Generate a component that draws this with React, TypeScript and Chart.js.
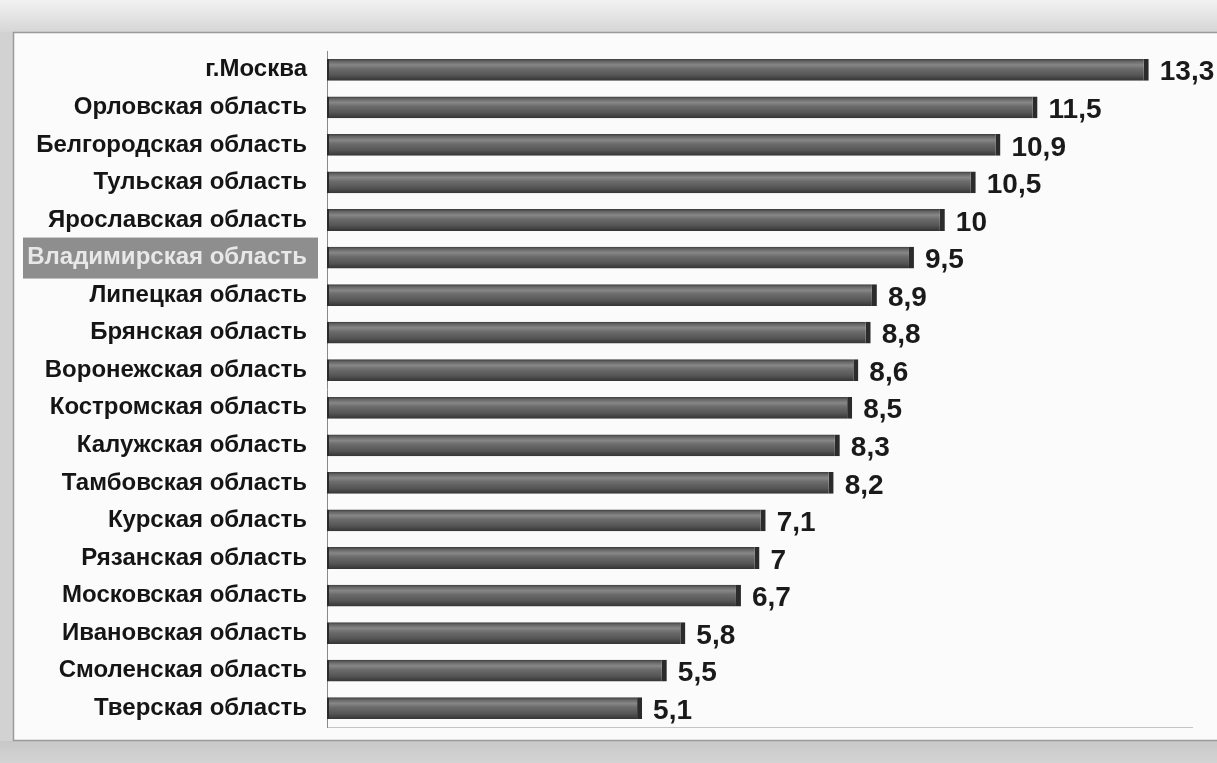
import { useEffect, useRef } from "react";
import { Chart, registerables } from "chart.js";

Chart.register(...registerables);

const regions: string[] = [
  "г.Москва",
  "Орловская область",
  "Белгородская область",
  "Тульская область",
  "Ярославская область",
  "Владимирская область",
  "Липецкая область",
  "Брянская область",
  "Воронежская область",
  "Костромская область",
  "Калужская область",
  "Тамбовская область",
  "Курская область",
  "Рязанская область",
  "Московская область",
  "Ивановская область",
  "Смоленская область",
  "Тверская область",
];

const values: number[] = [13.3, 11.5, 10.9, 10.5, 10, 9.5, 8.9, 8.8, 8.6, 8.5, 8.3, 8.2, 7.1, 7, 6.7, 5.8, 5.5, 5.1];

const highlightIndex = 5;
const xMin = 0;
const xMax = 14;

const fmt = (v: number) => String(v).replace(".", ",");

export default function App() {
  const ref = useRef<HTMLCanvasElement>(null);

  useEffect(() => {
    const canvas = ref.current;
    if (!canvas) return;

    const bgPlugin = {
      id: "bgPanel",
      beforeDraw(chart: any) {
        const { ctx, width, height } = chart;
        ctx.save();
        ctx.fillStyle = "#d2d2d2";
        ctx.fillRect(0, 0, width, height);
        const gt = ctx.createLinearGradient(0, 0, 0, 32);
        gt.addColorStop(0, "#f2f2f2");
        gt.addColorStop(1, "#d6d6d6");
        ctx.fillStyle = gt;
        ctx.fillRect(0, 0, width, 32);
        const gb = ctx.createLinearGradient(0, 741, 0, height);
        gb.addColorStop(0, "#c8c8c8");
        gb.addColorStop(1, "#d4d4d4");
        ctx.fillStyle = gb;
        ctx.fillRect(0, 741, width, height - 741);
        ctx.fillStyle = "#fbfbfb";
        ctx.fillRect(13, 32, width - 13, 709);
        ctx.strokeStyle = "#9a9a9a";
        ctx.lineWidth = 1.5;
        ctx.strokeRect(13.5, 32.5, width + 5, 708);
        const ys = chart.scales.y;
        if (ys) {
          const yc = ys.getPixelForValue(highlightIndex);
          if (Number.isFinite(yc)) {
            ctx.fillStyle = "#8e8e8e";
            ctx.fillRect(23, yc - 20, ys.right - 23 - 9, 41);
          }
        }
        ctx.restore();
      },
    };

    const labelPlugin = {
      id: "valueLabels",
      afterDatasetsDraw(chart: any) {
        const { ctx } = chart;
        const meta = chart.getDatasetMeta(0);
        ctx.save();
        ctx.fillStyle = "#1a1a1a";
        ctx.font = "bold 28px 'Liberation Sans', Arial, sans-serif";
        ctx.textAlign = "left";
        ctx.textBaseline = "middle";
        meta.data.forEach((el: any, i: number) => {
          ctx.fillText(fmt(values[i]), el.x + 11, el.y + 3);
        });
        ctx.restore();
      },
    };

    const chart = new Chart(canvas, {
      type: "bar",
      data: {
        labels: regions,
        datasets: [
          {
            data: values,
            backgroundColor: (c: any) => {
              const ch = c.chart;
              const ys = ch.scales?.y;
              if (!ys || c.dataIndex === undefined) return "#5a5a5a";
              const yc = ys.getPixelForValue(c.dataIndex);
              if (!Number.isFinite(yc)) return "#5a5a5a";
              const h = 11;
              const g = ch.ctx.createLinearGradient(0, yc - h, 0, yc + h);
              g.addColorStop(0, "#3a3a3a");
              g.addColorStop(0.12, "#666666");
              g.addColorStop(0.28, "#878787");
              g.addColorStop(0.45, "#6c6c6c");
              g.addColorStop(0.75, "#555555");
              g.addColorStop(1, "#333333");
              return g;
            },
            borderColor: "#2b2b2b",
            borderWidth: { top: 0, bottom: 0, left: 2, right: 5 } as any,
            borderSkipped: false,
            barPercentage: 0.58,
            categoryPercentage: 1,
          },
        ],
      },
      options: {
        indexAxis: "y",
        responsive: false,
        animation: false,
        events: [],
        layout: { padding: { top: 51, bottom: 36, right: 25, left: 0 } },
        plugins: {
          legend: { display: false },
          title: { display: false },
          tooltip: { enabled: false },
        },
        scales: {
          x: {
            min: xMin,
            max: xMax,
            display: true,
            grid: { display: false, drawTicks: false },
            ticks: { display: false },
            border: { display: true, color: "#c4c4c4", width: 1 },
            afterFit(s: any) {
              s.height = 0;
            },
          },
          y: {
            grid: { display: false, drawTicks: false },
            border: { display: true, color: "#8a8a8a", width: 1 },
            ticks: {
              color: (c: any) => (c.index === highlightIndex ? "#e8e8e8" : "#151515"),
              font: { family: "'Liberation Sans', Arial, sans-serif", weight: "bold", size: 24 },
              padding: 20,
              autoSkip: false,
            },
            afterFit(s: any) {
              s.width = 327;
            },
          },
        },
      },
      plugins: [bgPlugin, labelPlugin],
    } as any);

    return () => chart.destroy();
  }, []);

  return (
    <div style={{ position: "fixed", left: 0, top: 0, width: 1217, height: 763 }}>
      <canvas ref={ref} width={1217} height={763} style={{ display: "block", width: 1217, height: 763 }} />
    </div>
  );
}
